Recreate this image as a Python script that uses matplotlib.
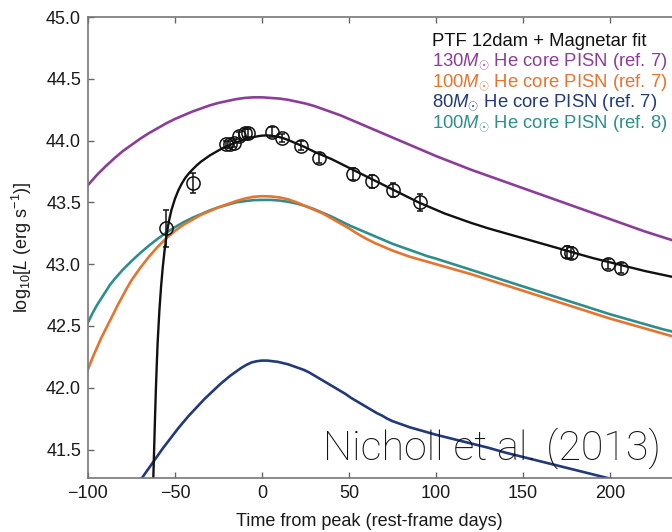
import matplotlib
matplotlib.use("Agg")
import matplotlib.pyplot as plt

plt.rcParams['font.family'] = ['Liberation Sans', 'DejaVu Sans']
plt.rcParams['mathtext.fontset'] = 'custom'
plt.rcParams['mathtext.rm'] = 'Liberation Sans'
plt.rcParams['mathtext.it'] = 'Liberation Sans:italic'
plt.rcParams['mathtext.bf'] = 'Liberation Sans:bold'

# --- data points (PTF 12dam) ---
obs_t = [-55.2, -39.8, -20.5, -18.3, -16.3, -13.0, -9.8, -7.9, 5.8, 11.3, 22.4, 33.0,
         52.1, 63.0, 75.5, 90.8, 175.1, 177.4, 199.0, 206.3]
obs_L = [43.29, 43.66, 43.97, 43.97, 43.98, 44.04, 44.06, 44.06, 44.07, 44.02, 43.96, 43.86,
         43.73, 43.67, 43.60, 43.50, 43.10, 43.09, 43.00, 42.97]
obs_err = [0.15, 0.08, 0.03, 0.03, 0.03, 0.03, 0.03, 0.03, 0.04, 0.03, 0.04, 0.04,
           0.05, 0.05, 0.06, 0.07, 0.05, 0.05, 0.04, 0.04]

# --- magnetar fit ---
mag_t = [-63.0, -62.5, -62.0, -61.5, -61.0, -60.5, -60.0, -59.0, -58.0, -57.0, -56.0, -55.0,
         -54.0, -53.0, -52.0, -50.0, -48.0, -46.0, -44.0, -42.0, -40.0, -37.5, -35.0, -32.5,
         -30.0, -27.5, -25.0, -22.5, -20.0, -17.5, -15.0, -12.5, -10.0, -7.5, -5.0, -2.5,
         0.0, 2.5, 5.0, 7.5, 10.0, 12.5, 15.0, 20.0, 25.0, 30.0, 35.0, 40.0, 45.0, 50.0,
         55.0, 60.0, 65.0, 70.0, 75.0, 80.0, 85.0, 90.0, 95.0, 100.0, 105.0, 110.0, 115.0,
         120.0, 130.0, 140.0, 150.0, 160.0, 170.0, 180.0, 190.0, 200.0, 210.0, 220.0, 230.0, 240.0]
mag_L = [40.90, 41.25, 41.50, 41.75, 41.98, 42.18, 42.36, 42.62, 42.82, 42.98, 43.11, 43.22,
         43.31, 43.38, 43.44, 43.53, 43.60, 43.655, 43.70, 43.735, 43.765, 43.80, 43.83, 43.855,
         43.88, 43.90, 43.92, 43.94, 43.955, 43.97, 43.985, 43.997, 44.01, 44.02, 44.028, 44.035,
         44.04, 44.042, 44.04, 44.035, 44.028, 44.018, 44.005, 43.975, 43.945, 43.91, 43.88,
         43.85, 43.815, 43.78, 43.745, 43.71, 43.675, 43.64, 43.605, 43.57, 43.535, 43.50,
         43.47, 43.44, 43.41, 43.385, 43.36, 43.335, 43.29, 43.25, 43.21, 43.17, 43.13, 43.09,
         43.05, 43.015, 42.98, 42.945, 42.915, 42.885]

# --- 130 Msun He core PISN (ref. 7) ---
p130_t = [-100, -95, -90, -85, -80, -75, -70, -65, -60, -55, -50, -45, -40, -35, -30, -25,
          -20, -15, -10, -5, 0, 5, 10, 15, 20, 25, 30, 35, 40, 45, 50, 55, 60, 65, 70, 75,
          80, 85, 90, 95, 100, 110, 120, 130, 140, 150, 160, 170, 180, 190, 200, 210, 220,
          230, 240]
p130_L = [43.64, 43.72, 43.79, 43.855, 43.915, 43.965, 44.015, 44.06, 44.10, 44.14, 44.175,
          44.205, 44.235, 44.26, 44.285, 44.305, 44.32, 44.335, 44.345, 44.35, 44.35, 44.345,
          44.34, 44.33, 44.315, 44.30, 44.28, 44.255, 44.23, 44.205, 44.175, 44.145, 44.115,
          44.085, 44.055, 44.025, 43.995, 43.965, 43.935, 43.905, 43.875, 43.82, 43.765,
          43.715, 43.665, 43.615, 43.565, 43.515, 43.465, 43.415, 43.365, 43.315, 43.265,
          43.22, 43.175]

# --- 100 Msun He core PISN (ref. 7) ---
p100_t = [-100, -97.5, -95, -92.5, -90, -87.5, -85, -82.5, -80, -77.5, -75, -72.5, -70, -65,
          -60, -55, -50, -45, -40, -35, -30, -25, -20, -15, -10, -5, 0, 5, 10, 15, 20, 25,
          30, 35, 40, 45, 50, 55, 60, 65, 70, 75, 80, 85, 90, 95, 100, 110, 120, 130, 140,
          150, 160, 170, 180, 190, 200, 210, 220, 230, 240]
p100_L = [42.15, 42.24, 42.32, 42.40, 42.47, 42.54, 42.61, 42.68, 42.745, 42.81, 42.87,
          42.92, 42.97, 43.06, 43.14, 43.21, 43.27, 43.32, 43.36, 43.40, 43.43, 43.46, 43.485,
          43.51, 43.53, 43.545, 43.55, 43.548, 43.54, 43.525, 43.50, 43.47, 43.44, 43.41,
          43.37, 43.33, 43.29, 43.245, 43.205, 43.17, 43.14, 43.11, 43.085, 43.06, 43.04,
          43.02, 43.00, 42.96, 42.92, 42.875, 42.83, 42.785, 42.74, 42.695, 42.65, 42.605,
          42.56, 42.52, 42.48, 42.44, 42.40]

# --- 80 Msun He core PISN (ref. 7) ---
p80_t = [-72, -69, -66, -63, -60, -57, -54, -51, -48, -45, -42, -39, -36, -33, -30, -27,
         -24, -21, -18, -15, -12, -9, -6, -3, 0, 3, 6, 9, 12, 15, 18, 21, 24, 27, 30, 33,
         36, 39, 42, 45, 48, 51, 54, 57, 60, 63, 66, 69, 72, 75, 78, 81, 85, 90, 95, 100,
         110, 120, 130, 140, 150, 160, 170, 180, 190, 200, 210, 220]
p80_L = [41.21, 41.27, 41.33, 41.39, 41.45, 41.51, 41.565, 41.62, 41.675, 41.725, 41.775,
         41.82, 41.865, 41.91, 41.95, 41.99, 42.03, 42.065, 42.10, 42.13, 42.16, 42.185,
         42.205, 42.215, 42.22, 42.22, 42.215, 42.21, 42.20, 42.19, 42.175, 42.16, 42.145,
         42.125, 42.10, 42.075, 42.05, 42.025, 42.00, 41.975, 41.95, 41.92, 41.895, 41.87,
         41.845, 41.82, 41.795, 41.775, 41.75, 41.73, 41.715, 41.70, 41.68, 41.66, 41.64,
         41.62, 41.585, 41.55, 41.515, 41.475, 41.44, 41.405, 41.37, 41.335, 41.30, 41.265,
         41.23, 41.195]

# --- 100 Msun He core PISN (ref. 8) ---
k100_t = [-100, -97.5, -95, -92.5, -90, -87.5, -85, -82.5, -80, -77.5, -75, -70, -65, -60,
          -55, -50, -45, -40, -35, -30, -25, -20, -15, -10, -5, 0, 5, 10, 15, 20, 25, 30,
          35, 40, 45, 50, 55, 60, 65, 70, 75, 80, 85, 90, 95, 100, 110, 120, 130, 140, 150,
          160, 170, 180, 190, 200, 210, 220, 230, 240]
k100_L = [42.53, 42.60, 42.665, 42.72, 42.775, 42.83, 42.875, 42.915, 42.955, 42.99, 43.025,
          43.09, 43.15, 43.205, 43.255, 43.30, 43.34, 43.375, 43.405, 43.435, 43.46, 43.48,
          43.50, 43.51, 43.518, 43.52, 43.52, 43.515, 43.505, 43.49, 43.47, 43.445, 43.415,
          43.385, 43.35, 43.315, 43.285, 43.255, 43.225, 43.195, 43.165, 43.14, 43.115,
          43.09, 43.065, 43.045, 43.00, 42.955, 42.91, 42.865, 42.82, 42.775, 42.73, 42.685,
          42.64, 42.595, 42.555, 42.515, 42.475, 42.44]

labels = ['PTF 12dam + Magnetar fit',
          r'130$M_{\odot}$ He core PISN (ref. 7)',
          r'100$M_{\odot}$ He core PISN (ref. 7)',
          r'80$M_{\odot}$ He core PISN (ref. 7)',
          r'100$M_{\odot}$ He core PISN (ref. 8)']
xticks = [-100, -50, 0, 50, 100, 150, 200]
yticks = [41.5, 42.0, 42.5, 43.0, 43.5, 44.0, 44.5, 45.0]

c_black = '#111111'
c_purple = '#8C3D99'
c_orange = '#E5742F'
c_navy = '#223A7A'
c_teal = '#2F8E8C'

W, H = 672, 532
fig = plt.figure(figsize=(W / 100, H / 100), dpi=100)
ax = fig.add_axes([88 / W, (H - 478) / H, 591.6 / W, (478 - 17) / H])

ax.plot(p130_t, p130_L, color=c_purple, lw=1.9, solid_joinstyle='round')
ax.plot(k100_t, k100_L, color=c_teal, lw=1.9, solid_joinstyle='round')
ax.plot(p100_t, p100_L, color=c_orange, lw=1.9, solid_joinstyle='round')
ax.plot(p80_t, p80_L, color=c_navy, lw=1.9, solid_joinstyle='round')
ax.plot(mag_t, mag_L, color=c_black, lw=1.7, solid_joinstyle='round')
ax.errorbar(obs_t, obs_L, yerr=obs_err, fmt='o', mfc='none', mec=c_black, ms=9.5, mew=1.1,
            ecolor=c_black, elinewidth=1.1, capsize=2, capthick=1.1, zorder=5)

ax.set_xlim(-100, 240)
ax.set_ylim(41.27, 45.0)
ax.set_xticks(xticks)
ax.set_yticks(yticks)
ax.set_xticklabels([str(v).replace('-', '\u2212') for v in xticks])
ax.set_yticklabels([f'{v:.1f}' for v in yticks])
ax.tick_params(direction='in', length=4, width=1, top=True, right=True,
               labelsize=13, colors='#666666', labelcolor='#1a1a1a', pad=5)
for s in ax.spines.values():
    s.set_color('#777777')
    s.set_linewidth(1.2)

ax.set_xlabel('Time from peak (rest-frame days)', fontsize=13, color='#1a1a1a')
ax.xaxis.set_label_coords((369 - 88) / 591.6, -0.075)
ax.set_ylabel(r'log$_{10}$[$L$ (erg s$^{-1}$)]', fontsize=13, color='#1a1a1a')
ax.yaxis.set_label_coords((34 - 88) / 591.6, 0.5)

cols = [c_black, c_purple, c_orange, c_navy, c_teal]
bases = [46, 66.5, 86.8, 107.3, 127.5]
for lab, col, yb in zip(labels, cols, bases):
    fig.text(432 / W, 1 - yb / H, lab, color=col, fontsize=13.3, ha='left', va='baseline')

fig.text(323 / W, 1 - 460 / H, 'Nicholl et al. (2013)', fontsize=29.6, ha='left', va='baseline',
         color='#111111', family=['Roboto', 'Liberation Sans', 'DejaVu Sans'], fontweight='light')

fig.savefig('out.png', dpi=100)
